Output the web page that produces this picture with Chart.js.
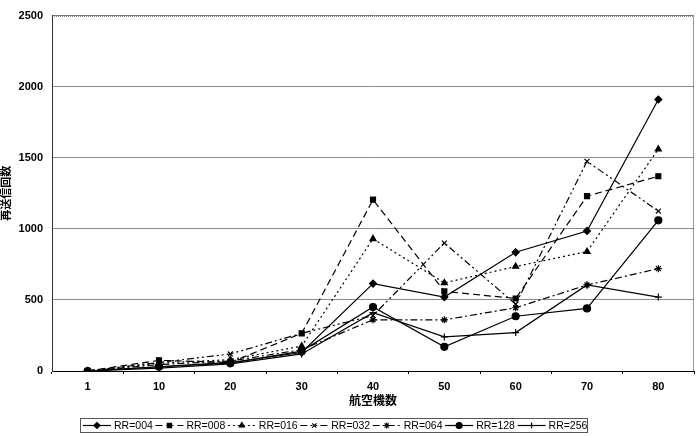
<!DOCTYPE html>
<html>
<head>
<meta charset="utf-8">
<style>
  html, body { margin: 0; padding: 0; background: #fff; }
  #wrap { width: 700px; height: 437px; }
</style>
<script src="https://cdn.jsdelivr.net/npm/chart.js"></script>
</head>
<body>
<div id="wrap"><canvas id="chart" width="700" height="437"></canvas></div>
<script>
let categories = ["1", "10", "20", "30", "40", "50", "60", "70", "80"];
let yTicks = [0, 500, 1000, 1500, 2000, 2500];
let seriesNames = ["RR=004", "RR=008", "RR=016", "RR=032", "RR=064", "RR=128", "RR=256"];

let rr004 = [0, 30, 60, 130, 615, 520, 835, 985, 1910];
let rr008 = [0, 75, 60, 265, 1205, 560, 510, 1230, 1370];
let rr016 = [0, 55, 80, 175, 930, 620, 735, 840, 1560];
let rr032 = [0, 60, 120, 265, 390, 900, 470, 1475, 1125];
let rr064 = [0, 45, 70, 150, 360, 360, 445, 605, 720];
let rr128 = [0, 30, 55, 140, 450, 170, 385, 440, 1060];
let rr256 = [0, 20, 50, 120, 410, 240, 270, 605, 520];

let seriesValues = [rr004, rr008, rr016, rr032, rr064, rr128, rr256];
let markers = ["rectRot", "rect", "triangle", "crossRot", "star", "circle", "cross"];
let dashes = [[], [7, 4], [2, 3], [7, 3, 2, 3, 2, 3], [7, 3, 2, 3], [], []];

let font = "'Liberation Sans', Arial, 'Noto Sans CJK JP', sans-serif";

let datasets = seriesNames.map((name, i) => ({
    label: name,
    data: seriesValues[i],
    borderColor: "#000",
    backgroundColor: "#000",
    borderWidth: 1.2,
    borderDash: dashes[i],
    pointStyle: markers[i],
    pointRadius: 3.5,
    pointBorderWidth: 1.2,
    pointBorderColor: "#000",
    pointBackgroundColor: "#000",
    fill: false,
    tension: 0
}));

// dotted frame on top/right + bottom legend drawn on the canvas
let framePlugin = {
    id: "frame",
    afterDraw(chart) {
        let ctx = chart.ctx;
        let a = chart.chartArea;
        ctx.save();
        ctx.strokeStyle = "#333";
        ctx.lineWidth = 1;
        ctx.setLineDash([1, 1]);
        ctx.beginPath();
        ctx.moveTo(a.left, a.top + 0.5);
        ctx.lineTo(a.right - 0.5, a.top + 0.5);
        ctx.lineTo(a.right - 0.5, a.bottom);
        ctx.stroke();
        ctx.setLineDash([]);

        // legend
        let boxL = 80, boxR = 587, boxT = 418, boxB = 432;
        ctx.strokeStyle = "#555";
        ctx.strokeRect(boxL + 0.5, boxT + 0.5, boxR - boxL, boxB - boxT);
        let step = (boxR - boxL) / seriesNames.length;
        let cy = (boxT + boxB) / 2 + 0.5;
        ctx.font = "10.5px " + font;
        ctx.fillStyle = "#000";
        ctx.textBaseline = "middle";
        seriesNames.forEach((name, i) => {
            let x0 = boxL + 3 + i * step;
            ctx.strokeStyle = "#000";
            ctx.lineWidth = 1.2;
            ctx.setLineDash(dashes[i]);
            ctx.beginPath();
            ctx.moveTo(x0, cy);
            ctx.lineTo(x0 + 28, cy);
            ctx.stroke();
            ctx.setLineDash([]);
            Chart.helpers.drawPoint(ctx, {
                pointStyle: markers[i], radius: 3, rotation: 0, borderWidth: 1.2
            }, x0 + 14, cy);
            ctx.fillText(name, x0 + 31, cy + 0.5);
        });
        ctx.restore();
    }
};

new Chart(document.getElementById("chart"), {
    type: "line",
    data: { labels: categories, datasets: datasets },
    plugins: [framePlugin],
    options: {
        responsive: false,
        animation: false,
        layout: { padding: { top: 9, right: 6, left: 0, bottom: 28 } },
        plugins: {
            legend: { display: false },
            tooltip: { enabled: false }
        },
        scales: {
            x: {
                offset: true,
                grid: { display: true, drawOnChartArea: false, drawTicks: true, tickLength: 3, color: "#000", offset: true },
                border: { display: true, color: "#000", width: 1 },
                ticks: { color: "#000", font: { family: font, size: 11, weight: "bold" }, padding: 6, maxRotation: 0 },
                title: { display: true, text: "航空機数", color: "#000", font: { family: font, size: 12, weight: "bold" }, padding: { top: 2, bottom: 0 } },
                afterFit(scale) { scale.height = 38; }
            },
            y: {
                min: 0,
                max: 2500,
                afterBuildTicks(scale) { scale.ticks = yTicks.map(v => ({ value: v })); },
                grid: { color: "#8a8a8a", lineWidth: 1, drawTicks: false },
                border: { display: true, color: "#333", width: 1 },
                ticks: { color: "#000", font: { family: font, size: 11, weight: "bold" }, padding: 9, callback: v => String(v) },
                title: { display: true, text: "再送信回数", color: "#000", font: { family: font, size: 11, weight: "bold" }, padding: { top: 0, bottom: 2 } },
                afterFit(scale) { scale.width = 52; }
            }
        }
    }
});
</script>
</body>
</html>
